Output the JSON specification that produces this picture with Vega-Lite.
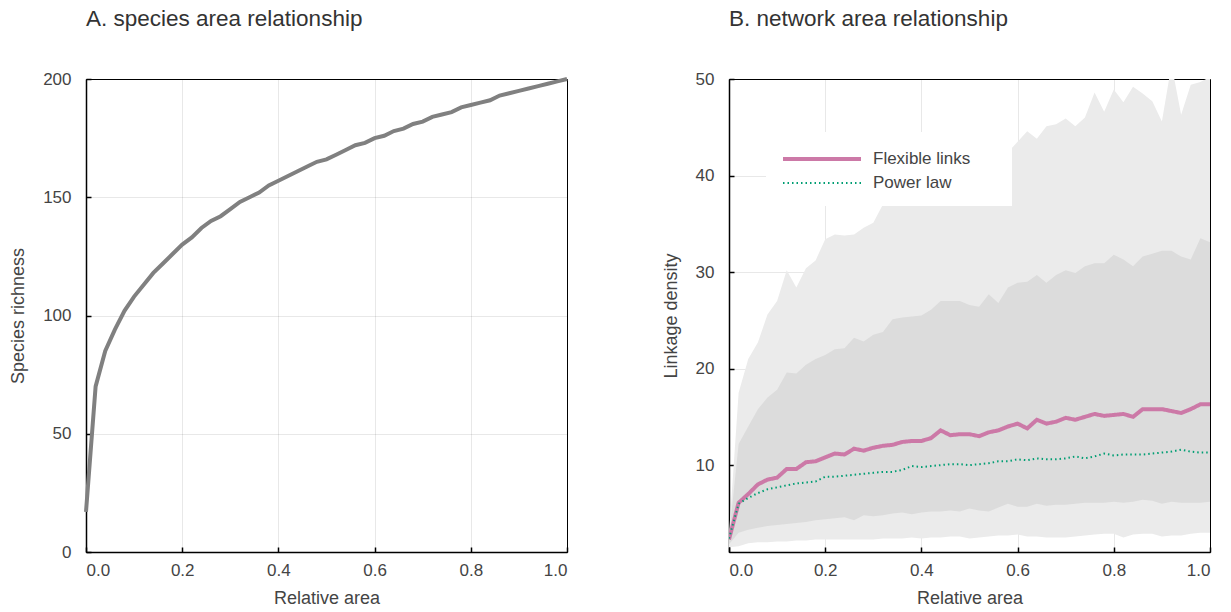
{
  "$schema": "https://vega.github.io/schema/vega-lite/v6.json",
  "background": "white",
  "padding": {"left": 9, "top": 7, "right": 5, "bottom": 5},
  "bounds": "flush",
  "spacing": 162,
  "config": {
    "font": "Liberation Sans",
    "view": {"stroke": "#000", "strokeWidth": 1},
    "axis": {
      "domainColor": "#000", "domainWidth": 1.5,
      "tickColor": "#000", "tickWidth": 1.5, "tickSize": -5,
      "labelFontSize": 17, "labelColor": "#444", "labelFont": "Liberation Sans",
      "titleFontSize": 18, "titleColor": "#444", "titleFontWeight": "normal", "titleFont": "Liberation Sans",
      "gridColor": "#000", "gridOpacity": 0.09, "gridWidth": 1, "zindex": 1
    },
    "axisX": {"labelPadding": 15, "titlePadding": 11},
    "axisY": {"labelPadding": 20, "titlePadding": 15},
    "title": {"fontSize": 22.5, "fontWeight": "normal", "color": "#333", "anchor": "start", "frame": "group", "offset": 40, "font": "Liberation Sans"}
  },
  "datasets": {
    "species": [
      {"area": 0.00, "richness": 17}, {"area": 0.02, "richness": 70}, {"area": 0.04, "richness": 85},
      {"area": 0.06, "richness": 94}, {"area": 0.08, "richness": 102}, {"area": 0.10, "richness": 108},
      {"area": 0.12, "richness": 113}, {"area": 0.14, "richness": 118}, {"area": 0.16, "richness": 122},
      {"area": 0.18, "richness": 126}, {"area": 0.20, "richness": 130}, {"area": 0.22, "richness": 133},
      {"area": 0.24, "richness": 137}, {"area": 0.26, "richness": 140}, {"area": 0.28, "richness": 142},
      {"area": 0.30, "richness": 145}, {"area": 0.32, "richness": 148}, {"area": 0.34, "richness": 150},
      {"area": 0.36, "richness": 152}, {"area": 0.38, "richness": 155}, {"area": 0.40, "richness": 157},
      {"area": 0.42, "richness": 159}, {"area": 0.44, "richness": 161}, {"area": 0.46, "richness": 163},
      {"area": 0.48, "richness": 165}, {"area": 0.50, "richness": 166}, {"area": 0.52, "richness": 168},
      {"area": 0.54, "richness": 170}, {"area": 0.56, "richness": 172}, {"area": 0.58, "richness": 173},
      {"area": 0.60, "richness": 175}, {"area": 0.62, "richness": 176}, {"area": 0.64, "richness": 178},
      {"area": 0.66, "richness": 179}, {"area": 0.68, "richness": 181}, {"area": 0.70, "richness": 182},
      {"area": 0.72, "richness": 184}, {"area": 0.74, "richness": 185}, {"area": 0.76, "richness": 186},
      {"area": 0.78, "richness": 188}, {"area": 0.80, "richness": 189}, {"area": 0.82, "richness": 190},
      {"area": 0.84, "richness": 191}, {"area": 0.86, "richness": 193}, {"area": 0.88, "richness": 194},
      {"area": 0.90, "richness": 195}, {"area": 0.92, "richness": 196}, {"area": 0.94, "richness": 197},
      {"area": 0.96, "richness": 198}, {"area": 0.98, "richness": 199}, {"area": 1.00, "richness": 200}
    ],
    "net": [
      {"area": 0.00, "lo2": 1.5, "lo1": 1.8, "hi1": 2.6, "hi2": 2.8, "Flexible links": 2.3, "Power law": 2.4},
      {"area": 0.02, "lo2": 1.6, "lo1": 3.0, "hi1": 12.2, "hi2": 17.5, "Flexible links": 6.1, "Power law": 6.0},
      {"area": 0.04, "lo2": 1.9, "lo1": 3.3, "hi1": 14.0, "hi2": 21.0, "Flexible links": 7.0, "Power law": 6.6},
      {"area": 0.06, "lo2": 2.0, "lo1": 3.5, "hi1": 15.8, "hi2": 22.7, "Flexible links": 8.0, "Power law": 7.1},
      {"area": 0.08, "lo2": 2.0, "lo1": 3.7, "hi1": 17.0, "hi2": 25.6, "Flexible links": 8.5, "Power law": 7.5},
      {"area": 0.10, "lo2": 2.1, "lo1": 3.8, "hi1": 17.8, "hi2": 27.0, "Flexible links": 8.7, "Power law": 7.7},
      {"area": 0.12, "lo2": 2.1, "lo1": 3.9, "hi1": 19.6, "hi2": 30.2, "Flexible links": 9.6, "Power law": 7.9},
      {"area": 0.14, "lo2": 2.2, "lo1": 4.0, "hi1": 19.5, "hi2": 28.4, "Flexible links": 9.6, "Power law": 8.1},
      {"area": 0.16, "lo2": 2.2, "lo1": 4.1, "hi1": 20.4, "hi2": 30.4, "Flexible links": 10.3, "Power law": 8.2},
      {"area": 0.18, "lo2": 2.3, "lo1": 4.3, "hi1": 21.0, "hi2": 31.2, "Flexible links": 10.4, "Power law": 8.3},
      {"area": 0.20, "lo2": 2.3, "lo1": 4.4, "hi1": 21.4, "hi2": 33.4, "Flexible links": 10.8, "Power law": 8.8},
      {"area": 0.22, "lo2": 2.3, "lo1": 4.5, "hi1": 22.0, "hi2": 33.9, "Flexible links": 11.2, "Power law": 8.8},
      {"area": 0.24, "lo2": 2.3, "lo1": 4.6, "hi1": 22.1, "hi2": 33.8, "Flexible links": 11.1, "Power law": 8.9},
      {"area": 0.26, "lo2": 2.3, "lo1": 4.3, "hi1": 23.2, "hi2": 33.9, "Flexible links": 11.7, "Power law": 9.0},
      {"area": 0.28, "lo2": 2.3, "lo1": 4.8, "hi1": 22.8, "hi2": 34.6, "Flexible links": 11.5, "Power law": 9.1},
      {"area": 0.30, "lo2": 2.3, "lo1": 4.7, "hi1": 23.5, "hi2": 35.1, "Flexible links": 11.8, "Power law": 9.2},
      {"area": 0.32, "lo2": 2.4, "lo1": 4.8, "hi1": 23.8, "hi2": 37.0, "Flexible links": 12.0, "Power law": 9.3},
      {"area": 0.34, "lo2": 2.4, "lo1": 5.0, "hi1": 25.1, "hi2": 38.0, "Flexible links": 12.1, "Power law": 9.3},
      {"area": 0.36, "lo2": 2.4, "lo1": 5.1, "hi1": 25.3, "hi2": 38.5, "Flexible links": 12.4, "Power law": 9.5},
      {"area": 0.38, "lo2": 2.5, "lo1": 4.9, "hi1": 25.4, "hi2": 39.2, "Flexible links": 12.5, "Power law": 9.9},
      {"area": 0.40, "lo2": 2.4, "lo1": 5.1, "hi1": 25.5, "hi2": 39.0, "Flexible links": 12.5, "Power law": 9.8},
      {"area": 0.42, "lo2": 2.5, "lo1": 5.2, "hi1": 26.1, "hi2": 39.8, "Flexible links": 12.8, "Power law": 9.9},
      {"area": 0.44, "lo2": 2.5, "lo1": 5.2, "hi1": 27.0, "hi2": 40.5, "Flexible links": 13.6, "Power law": 10.0},
      {"area": 0.46, "lo2": 2.6, "lo1": 5.3, "hi1": 27.0, "hi2": 40.3, "Flexible links": 13.1, "Power law": 10.1},
      {"area": 0.48, "lo2": 2.6, "lo1": 5.2, "hi1": 27.0, "hi2": 41.0, "Flexible links": 13.2, "Power law": 10.1},
      {"area": 0.50, "lo2": 2.4, "lo1": 5.5, "hi1": 26.6, "hi2": 41.4, "Flexible links": 13.2, "Power law": 10.0},
      {"area": 0.52, "lo2": 2.5, "lo1": 5.3, "hi1": 26.4, "hi2": 41.2, "Flexible links": 13.0, "Power law": 10.1},
      {"area": 0.54, "lo2": 2.6, "lo1": 5.2, "hi1": 27.7, "hi2": 41.8, "Flexible links": 13.4, "Power law": 10.2},
      {"area": 0.56, "lo2": 2.7, "lo1": 5.6, "hi1": 26.8, "hi2": 42.0, "Flexible links": 13.6, "Power law": 10.4},
      {"area": 0.58, "lo2": 2.7, "lo1": 6.0, "hi1": 28.4, "hi2": 42.4, "Flexible links": 14.0, "Power law": 10.4},
      {"area": 0.60, "lo2": 2.8, "lo1": 5.7, "hi1": 28.9, "hi2": 43.5, "Flexible links": 14.3, "Power law": 10.6},
      {"area": 0.62, "lo2": 2.6, "lo1": 5.7, "hi1": 29.0, "hi2": 44.6, "Flexible links": 13.8, "Power law": 10.5},
      {"area": 0.64, "lo2": 2.6, "lo1": 6.0, "hi1": 29.7, "hi2": 43.8, "Flexible links": 14.7, "Power law": 10.7},
      {"area": 0.66, "lo2": 2.5, "lo1": 5.8, "hi1": 28.9, "hi2": 45.1, "Flexible links": 14.3, "Power law": 10.6},
      {"area": 0.68, "lo2": 2.5, "lo1": 5.9, "hi1": 29.7, "hi2": 45.3, "Flexible links": 14.5, "Power law": 10.6},
      {"area": 0.70, "lo2": 2.5, "lo1": 5.9, "hi1": 30.2, "hi2": 45.9, "Flexible links": 14.9, "Power law": 10.7},
      {"area": 0.72, "lo2": 2.6, "lo1": 6.0, "hi1": 29.9, "hi2": 45.1, "Flexible links": 14.7, "Power law": 10.9},
      {"area": 0.74, "lo2": 2.7, "lo1": 6.1, "hi1": 30.6, "hi2": 46.0, "Flexible links": 15.0, "Power law": 10.7},
      {"area": 0.76, "lo2": 2.8, "lo1": 6.1, "hi1": 30.9, "hi2": 48.6, "Flexible links": 15.3, "Power law": 10.9},
      {"area": 0.78, "lo2": 2.9, "lo1": 6.1, "hi1": 30.9, "hi2": 46.6, "Flexible links": 15.1, "Power law": 11.2},
      {"area": 0.80, "lo2": 2.9, "lo1": 6.2, "hi1": 31.8, "hi2": 48.9, "Flexible links": 15.2, "Power law": 11.0},
      {"area": 0.82, "lo2": 2.5, "lo1": 6.1, "hi1": 31.3, "hi2": 47.6, "Flexible links": 15.3, "Power law": 11.1},
      {"area": 0.84, "lo2": 2.8, "lo1": 6.2, "hi1": 30.6, "hi2": 49.2, "Flexible links": 15.0, "Power law": 11.1},
      {"area": 0.86, "lo2": 2.9, "lo1": 6.4, "hi1": 31.6, "hi2": 48.5, "Flexible links": 15.8, "Power law": 11.1},
      {"area": 0.88, "lo2": 2.9, "lo1": 6.3, "hi1": 31.9, "hi2": 47.7, "Flexible links": 15.8, "Power law": 11.2},
      {"area": 0.90, "lo2": 2.6, "lo1": 6.0, "hi1": 32.2, "hi2": 45.6, "Flexible links": 15.8, "Power law": 11.3},
      {"area": 0.92, "lo2": 2.7, "lo1": 6.2, "hi1": 32.2, "hi2": 51.5, "Flexible links": 15.6, "Power law": 11.4},
      {"area": 0.94, "lo2": 2.7, "lo1": 6.1, "hi1": 31.6, "hi2": 46.3, "Flexible links": 15.4, "Power law": 11.6},
      {"area": 0.96, "lo2": 2.9, "lo1": 6.1, "hi1": 31.3, "hi2": 49.4, "Flexible links": 15.8, "Power law": 11.4},
      {"area": 0.98, "lo2": 3.0, "lo1": 6.1, "hi1": 33.5, "hi2": 49.7, "Flexible links": 16.3, "Power law": 11.3},
      {"area": 1.00, "lo2": 3.0, "lo1": 6.2, "hi1": 33.1, "hi2": 50.2, "Flexible links": 16.3, "Power law": 11.3}
    ]
  },
  "hconcat": [
    {
      "width": 481,
      "height": 473,
      "title": "A. species area relationship",
      "data": {"name": "species"},
      "mark": {"type": "line", "color": "#808080", "strokeWidth": 4},
      "encoding": {
        "x": {"field": "area", "type": "quantitative", "scale": {"domain": [0, 1], "nice": false},
              "axis": {"title": "Relative area", "values": [0, 0.2, 0.4, 0.6, 0.8, 1], "format": ".1f"}},
        "y": {"field": "richness", "type": "quantitative", "scale": {"domain": [0, 200], "nice": false},
              "axis": {"title": "Species richness", "values": [0, 50, 100, 150, 200]}}
      }
    },
    {
      "width": 481,
      "height": 473,
      "title": "B. network area relationship",
      "data": {"name": "net"},
      "layer": [
        {
          "mark": {"type": "area", "color": "#ebebeb", "clip": true},
          "encoding": {
            "x": {"field": "area", "type": "quantitative", "scale": {"domain": [0, 1], "nice": false},
                  "axis": {"title": "Relative area", "values": [0, 0.2, 0.4, 0.6, 0.8, 1], "format": ".1f"}},
            "y": {"field": "lo2", "type": "quantitative", "scale": {"domain": [1, 50], "nice": false, "zero": false},
                  "axis": {"title": "Linkage density", "values": [10, 20, 30, 40, 50]}},
            "y2": {"field": "hi2"}
          }
        },
        {
          "mark": {"type": "area", "color": "#dcdcdc", "clip": true},
          "encoding": {
            "x": {"field": "area", "type": "quantitative"},
            "y": {"field": "lo1", "type": "quantitative", "axis": {"title": "Linkage density"}},
            "y2": {"field": "hi1"}
          }
        },
        {
          "transform": [{"fold": ["Flexible links", "Power law"], "as": ["series", "value"]}],
          "mark": {"type": "line", "clip": true},
          "encoding": {
            "x": {"field": "area", "type": "quantitative"},
            "y": {"field": "value", "type": "quantitative", "axis": {"title": "Linkage density"}},
            "color": {"field": "series", "type": "nominal",
                      "scale": {"domain": ["Flexible links", "Power law"], "range": ["#cc79a7", "#009e73"]},
                      "legend": {"title": null, "orient": "none", "legendX": 680, "legendY": 53, "fillColor": "white", "padding": 15,
                                 "symbolType": "M-1,0H6.8M19.6,0", "symbolSize": 400, "labelFontSize": 17, "labelColor": "#444",
                                 "labelOffset": 68, "rowPadding": 5, "zindex": 2}},
            "strokeDash": {"field": "series", "type": "nominal",
                           "scale": {"domain": ["Flexible links", "Power law"], "range": [[1, 0], [1.5, 3]]},
                           "legend": {"title": null, "orient": "none", "legendX": 680, "legendY": 53, "fillColor": "white", "padding": 15,
                                      "symbolType": "M-1,0H6.8M19.6,0", "symbolSize": 400, "labelFontSize": 17, "labelColor": "#444",
                                      "labelOffset": 68, "rowPadding": 5, "zindex": 2}},
            "strokeWidth": {"field": "series", "type": "nominal",
                            "scale": {"type": "ordinal", "domain": ["Flexible links", "Power law"], "range": [4, 2]},
                            "legend": {"title": null, "orient": "none", "legendX": 680, "legendY": 53, "fillColor": "white", "padding": 15,
                                       "symbolType": "M-1,0H6.8M19.6,0", "symbolSize": 400, "labelFontSize": 17, "labelColor": "#444",
                                       "labelOffset": 68, "rowPadding": 5, "zindex": 2}}
          }
        }
      ]
    }
  ]
}
